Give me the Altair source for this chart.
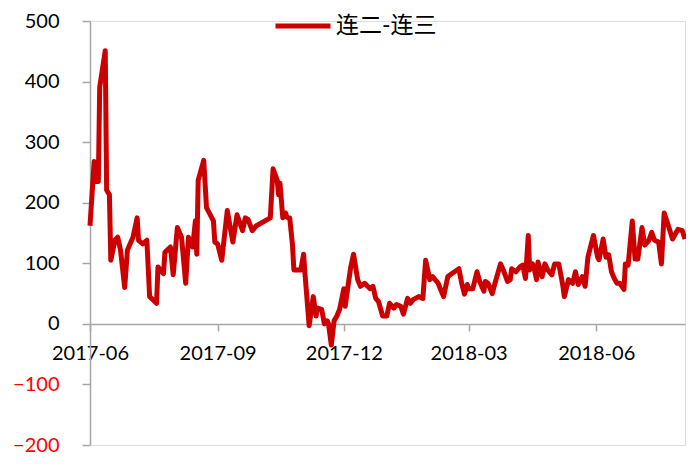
import altair as alt
import pandas as pd
from datetime import datetime, timedelta

series_name = "连二-连三"
start_date = "2017-06-01"
end_date = "2018-08-04"

# days since 2017-06-01
day_offsets = [0,3,4,6,7,11,12,14,15,18,
 20,22,25,27,31,34,35,38,41,43,
 48,49,53,54,58,60,63,66,69,71,
 74,76,77,78,82,84,89,90,92,95,
 99,103,106,110,112,114,117,120,130,132,
 135,136,137,139,141,142,144,146,147,152,
 154,155,158,161,163,164,167,169,171,172,
 174,176,178,180,183,184,186,188,190,193,
 195,198,202,204,206,208,211,214,216,219,
 221,224,226,229,231,233,237,240,242,245,
 247,251,254,255,258,261,266,268,270,272,
 273,276,279,281,284,285,287,290,292,296,
 298,301,303,304,307,310,312,314,316,317,
 319,320,322,323,326,328,330,333,335,338,
 341,342,345,348,350,352,355,357,359,363,
 366,367,370,372,374,376,378,380,382,385,
 386,388,391,393,395,398,400,403,405,407,
 410,412,414,417,420,424,427,429]

spread = [162,268,235,235,391,451,221,213,105,138,
 143,122,60,122,143,175,138,132,138,45,
 34,94,83,118,127,81,159,143,67,143,
 127,170,115,237,270,192,170,135,132,105,
 187,135,180,154,175,172,154,162,175,256,
 237,213,232,175,183,176,175,130,89,89,
 115,83,-3,45,13,26,24,0,5,0,
 -35,5,13,24,58,29,62,94,115,73,
 62,67,58,62,42,37,13,13,34,26,
 32,29,16,42,34,40,45,42,105,73,
 78,67,50,45,78,83,91,67,49,65,
 58,58,86,70,54,70,67,50,67,99,
 89,70,73,91,86,94,97,75,146,89,
 99,94,73,102,78,99,89,81,99,99,
 62,45,73,67,86,65,78,62,110,146,
 110,106,140,110,114,86,75,67,67,57,
 99,97,170,107,107,159,130,138,151,138,
 135,99,183,162,140,156,154,140]

y_ticks = [-200, -100, 0, 100, 200, 300, 400, 500]
x_tick_dates = [(2017, 6), (2017, 9), (2017, 12), (2018, 3), (2018, 6)]

base = datetime.strptime(start_date, "%Y-%m-%d")
df = pd.DataFrame({
    "date": [(base + timedelta(days=d)).strftime("%Y-%m-%dT00:00:00Z") for d in day_offsets],
    "value": spread,
    "series": [series_name] * len(spread),
})

def dt(y, m, d=1):
    return alt.DateTime(year=y, month=m, date=d, utc=True)

ey, em, ed = [int(p) for p in end_date.split("-")]

font = "Lato, 'Noto Sans CJK SC'"
gray = "#A6A6A6"
plot_h = 424
zero_offset = -round(plot_h * 200 / 700)

chart = alt.Chart(df).mark_line(strokeWidth=5, strokeJoin="round").encode(
    x=alt.X("date:T",
            scale=alt.Scale(type="utc", domain=[dt(2017, 6, 1), dt(ey, em, ed)]),
            axis=alt.Axis(values=[dt(y, m) for y, m in x_tick_dates], format="%Y-%m",
                          title=None, grid=False, offset=zero_offset,
                          domainColor=gray, domainWidth=1.5, tickColor=gray, tickWidth=1.5,
                          tickSize=7, labelFontSize=20, labelFont=font, labelColor="black",
                          labelPadding=12, labelOverlap=False, labelFlush=False,
                          labelAlign="center")),
    y=alt.Y("value:Q",
            scale=alt.Scale(domain=[-200, 500], nice=False, zero=False),
            axis=alt.Axis(values=y_ticks, title=None, grid=False,
                          domainColor=gray, domainWidth=1.5, tickColor=gray, tickWidth=1.5,
                          tickSize=8, labelPadding=23, labelFontSize=20, labelFont=font,
                          labelColor=alt.ExprRef("datum.value < 0 ? '#FF0000' : '#000000'"))),
    color=alt.Color("series:N",
                    scale=alt.Scale(domain=[series_name], range=["#CC0000"]),
                    legend=alt.Legend(title=None, orient="none", legendX=183, legendY=-25,
                                      symbolType="stroke", symbolSize=3025, symbolStrokeWidth=5,
                                      labelFontSize=23, labelFont=font, labelColor="black",
                                      padding=0, labelOffset=3)),
).properties(
    width=595, height=plot_h,
    autosize=alt.AutoSizeParams(type="none"),
    padding={"left": 82, "top": 13, "right": 1, "bottom": 11},
).configure_view(stroke=None).configure(background="white")

chart.save("out.html", embed_options={"renderer": "svg", "actions": False})
